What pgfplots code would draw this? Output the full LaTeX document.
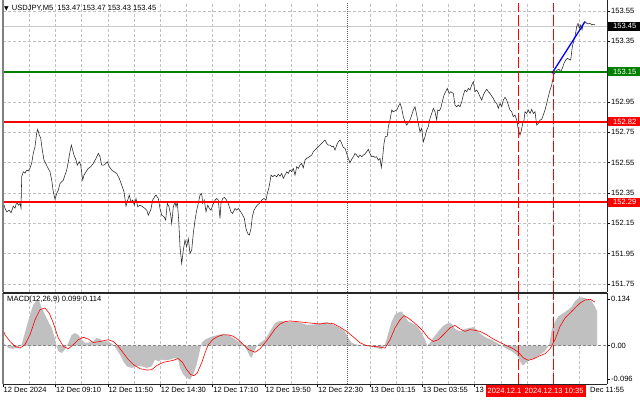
\documentclass[border=0pt]{standalone}
\usepackage{pgfplots}
\pgfplotsset{compat=1.18}
\usepackage{fontspec}
\setmainfont{Liberation Sans}
\newfontfamily\dejavu{DejaVu Sans}
\definecolor{mtgreen}{RGB}{0,128,0}
\definecolor{gridc}{RGB}{192,192,192}
\definecolor{histc}{RGB}{192,192,192}
\definecolor{curc}{RGB}{200,200,200}
\definecolor{mtred}{RGB}{255,0,0}
\newcommand{\fs}{\fontsize{7.6}{9}\selectfont}
\tikzset{mtgrid/.style={dash pattern=on 3bp off 2bp, draw=gridc, line width=0.5bp}}
\begin{document}
\begin{tikzpicture}
\path[use as bounding box, fill=white] (0bp,0bp) rectangle (640bp,-401bp);

% ---------------- main price panel ----------------
\begin{axis}[
  at={(3bp,-3bp)}, anchor=north west,
  scale only axis, width=604bp, height=289bp,
  xmin=3, xmax=607, ymin=151.697, ymax=153.603,
  axis line style={draw=none},
  clip=false,
  xtick=\empty,
  ytick={151.75,151.95,152.15,152.35,152.55,152.75,152.95,153.15,153.35,153.55},
  yticklabels={151.75,151.95,152.15,152.35,152.55,152.75,152.95,,153.35,153.55},
  ymajorgrids, major grid style={mtgrid},
  ytick pos=right, yticklabel pos=right,
  tick align=outside, major tick length=3bp,
  y tick style={black, line width=0.5bp},
  scaled y ticks=false,
  yticklabel style={font=\fs, anchor=west, inner sep=0pt, xshift=1bp},
]
% vertical grid
\pgfplotsinvokeforeach{29.2,55.4,81.6,107.8,134,160.2,186.4,212.6,238.8,265,291.2,317.4,369.8,396,422.2,448.4,474.6,500.8,527,553.2,579.4}{
  \draw[mtgrid] (axis cs:#1,151.697) -- (axis cs:#1,153.603);
}
% current price line
\addplot[draw=curc, line width=0.6bp] coordinates {(3,153.45) (607,153.45)};
% price
\addplot[draw=black!85, line width=0.55bp] coordinates {
(3,152.291) (5,152.250) (6.7,152.226) (9.3,152.237) (11,152.219) (13.3,152.263) (15,152.250) (16.7,152.291) (18.3,152.270) (20,152.281) (21,152.250) (21.7,152.457) (23.3,152.490) (25,152.481) (26.7,152.501) (28.3,152.496) (30,152.514) (31.7,152.547) (33.3,152.613) (35,152.655) (36.7,152.745) (37.7,152.770) (39.3,152.732) (40.7,152.712) (42.3,152.633) (44,152.567) (45.7,152.545) (47.3,152.523) (50,152.490) (51.7,152.435) (53.3,152.358) (55,152.308) (56.7,152.347) (58.3,152.369) (60,152.413) (61.7,152.424) (63.3,152.435) (65,152.468) (66.7,152.501) (68.3,152.556) (70,152.622) (71.3,152.666) (72.7,152.633) (74,152.600) (76,152.567) (77.3,152.534) (79.3,152.556) (80.7,152.534) (82.7,152.435) (84,152.468) (86,152.490) (88.3,152.512) (90.7,152.523) (93.3,152.545) (96,152.578) (98.3,152.611) (100,152.589) (101.7,152.534) (104,152.534) (106,152.545) (107.3,152.556) (109.3,152.523) (111.7,152.501) (114,152.490) (116.7,152.479) (119.3,152.446) (121.7,152.402) (124,152.358) (126,152.263) (127.7,152.303) (129.3,152.336) (131,152.291) (132.7,152.303) (134.3,152.270) (136,152.314) (137.7,152.259) (140,152.270) (142.7,152.259) (145,152.248) (146.7,152.237) (148.3,152.204) (150.7,152.237) (152.7,152.303) (155,152.329) (156,152.336) (158.3,152.314) (160,152.248) (161.7,152.204) (164,152.193) (165.7,152.171) (167.3,152.281) (169,152.259) (170.7,152.204) (171.7,152.149) (173.3,152.259) (175,152.291) (176,152.259) (177.3,152.291) (178.7,152.171) (180,151.995) (181.7,151.885) (183.3,151.973) (185,152.039) (186.7,151.995) (188.3,152.050) (190,151.951) (191.7,151.973) (193.3,152.083) (195,152.171) (196.7,152.237) (198.3,152.281) (200,152.336) (201.7,152.347) (202.7,152.281) (204.3,152.303) (206,152.226) (207.7,152.270) (209.3,152.248) (211,152.237) (212.7,152.270) (215,152.303) (216.7,152.314) (218.3,152.303) (220,152.182) (221,152.281) (222.7,152.314) (224.3,152.321) (226,152.308) (227.7,152.291) (229.3,152.259) (231,152.226) (232.7,152.215) (235,152.248) (236.7,152.237) (238.3,152.248) (240.7,152.226) (242.7,152.204) (244.3,152.182) (246,152.116) (247.7,152.083) (249.3,152.072) (251,152.116) (252.3,152.193) (254,152.237) (256,152.259) (257.3,152.270) (259.3,152.281) (261.7,152.303) (264,152.314) (266,152.303) (267.3,152.347) (268.7,152.380) (270,152.424) (271,152.468) (272.7,152.457) (274.3,152.468) (276.7,152.457) (278.3,152.474) (280,152.461) (281.7,152.479) (283.3,152.446) (285,152.468) (286.7,152.490) (288.3,152.479) (290,152.501) (291.7,152.490) (293.3,152.512) (295,152.468) (296.7,152.523) (298.3,152.512) (300,152.534) (301.7,152.545) (303.3,152.516) (305,152.567) (306.7,152.578) (309.3,152.589) (311.7,152.600) (313.3,152.622) (315,152.633) (316.7,152.644) (318.3,152.655) (320,152.666) (321.7,152.677) (323.3,152.688) (325,152.699) (326.7,152.677) (328.3,152.666) (330,152.666) (331.7,152.655) (333.3,152.659) (335,152.633) (336.7,152.666) (338.3,152.688) (340,152.699) (341.7,152.677) (343.3,152.651) (345,152.644) (346.7,152.611) (348.3,152.578) (350,152.549) (351.7,152.572) (353.3,152.589) (355,152.611) (356.7,152.600) (358.3,152.585) (360,152.600) (361.7,152.589) (363.3,152.600) (365,152.607) (366.7,152.622) (368.3,152.638) (370,152.611) (371.7,152.589) (373.3,152.593) (375,152.585) (376.7,152.589) (378.3,152.567) (380,152.578) (381.3,152.519) (382.7,152.589) (384,152.677) (385.3,152.721) (387.3,152.725) (388.3,152.787) (390,152.831) (391.7,152.897) (393.3,152.886) (395,152.892) (396.7,152.897) (398.3,152.919) (400,152.941) (401.7,152.908) (403.3,152.853) (405,152.820) (406.7,152.798) (408.3,152.813) (410,152.831) (411.7,152.864) (413.3,152.897) (415,152.919) (416.7,152.864) (418.3,152.809) (420,152.754) (421.7,152.776) (423.3,152.688) (425,152.721) (426.7,152.765) (428.3,152.787) (430,152.842) (431.7,152.875) (433.3,152.908) (435,152.886) (436.7,152.831) (437.7,152.897) (439.3,152.892) (440.7,152.908) (442.7,152.963) (444,152.996) (445.7,153.018) (447.3,153.040) (449,153.007) (450.7,153.018) (452.3,153.011) (453.3,153.007) (455,152.930) (456.7,152.919) (458.3,152.930) (460,152.919) (461.7,152.952) (463.3,152.996) (465,153.029) (466.7,153.018) (468.3,153.040) (470,153.029) (471.7,153.062) (473.3,153.084) (475,153.018) (476.7,153.029) (478.3,153.011) (480,152.985) (481.7,152.963) (483.3,152.996) (485,153.018) (486.7,153.034) (488.3,153.018) (490,153.007) (491.7,152.989) (493.3,152.974) (495,152.952) (496.7,152.941) (498.3,152.908) (500,152.941) (501.7,152.919) (503.3,152.963) (505,152.981) (506.7,152.963) (508.3,152.930) (510,152.897) (511.7,152.886) (513.3,152.853) (515,152.864) (516.7,152.831) (517.7,152.791) (519,152.754) (520,152.732) (521.3,152.760) (522.7,152.809) (524,152.831) (525,152.886) (526.7,152.875) (528.3,152.897) (530,152.875) (531.7,152.902) (533.3,152.875) (535,152.886) (536.7,152.798) (538.3,152.809) (540,152.831) (541.7,152.836) (543.3,152.864) (545,152.897) (546.7,152.941) (548.3,152.985) (550,153.029) (551.7,153.062) (552.7,153.095) (554,153.135) (555.7,153.150) (557.3,153.161) (559,153.166) (560.7,153.150) (562.3,153.172) (564,153.205) (565.7,153.227) (567.3,153.238) (569,153.232) (570.7,153.227) (572.3,153.315) (574,153.359) (575.3,153.392) (576.7,153.447) (578,153.469) (579.3,153.436) (580.7,153.458) (582,153.425) (583.3,153.469) (585,153.480) (586.7,153.469) (588.3,153.465) (590,153.469) (591.7,153.458) (593.3,153.463) (595,153.458)
};
% levels
\addplot[draw=mtgreen, line width=1.8bp] coordinates {(3,153.15) (607,153.15)};
\addplot[draw=mtred, line width=1.8bp] coordinates {(3,152.82) (607,152.82)};
\addplot[draw=mtred, line width=2.6bp] coordinates {(3,152.29) (607,152.29)};
% trend line
\addplot[draw=blue, line width=1.3bp] coordinates {(552,153.139) (585,153.480)};
% vertical lines
\addplot[draw=black!60, line width=1bp, dash pattern=on 1bp off 1bp] coordinates {(347,151.697) (347,153.603)};
\addplot[draw=mtred, line width=0.8bp, dash pattern=on 11bp off 3bp] coordinates {(518,151.697) (518,153.603)};
\addplot[draw=mtred, line width=0.8bp, dash pattern=on 11bp off 3bp] coordinates {(553,151.697) (553,153.603)};
% frame
\draw[gray, line width=1.5bp] (rel axis cs:0,0) -- ([yshift=3bp]rel axis cs:0,1);
\draw[black!85, line width=0.8bp] (rel axis cs:1,0) -- ([yshift=3bp]rel axis cs:1,1);
\draw[black!85, line width=0.8bp] (rel axis cs:0,0) -- (rel axis cs:1,0);
% right-side price labels
\node[fill=black, text=white, font=\fs, anchor=west, inner xsep=1.5bp, inner ysep=0pt, minimum height=9bp, minimum width=33bp] at ([xshift=1bp]axis cs:607,153.45) {153.45};
\node[fill=mtgreen, text=white, font=\fs, anchor=west, inner xsep=1.5bp, inner ysep=0pt, minimum height=9bp, minimum width=33bp] at ([xshift=1bp]axis cs:607,153.15) {153.15};
\node[fill=mtred, text=white, font=\fs, anchor=west, inner xsep=1.5bp, inner ysep=0pt, minimum height=9bp, minimum width=33bp] at ([xshift=1bp]axis cs:607,152.82) {152.82};
\node[fill=mtred, text=white, font=\fs, anchor=west, inner xsep=1.5bp, inner ysep=0pt, minimum height=9bp, minimum width=33bp] at ([xshift=1bp]axis cs:607,152.29) {152.29};
\end{axis}

% title
\node[anchor=west, inner sep=0pt, font=\fs] at (4bp,-8.5bp) {{\dejavu\fontsize{6}{7}\selectfont ▼}\hspace{3bp}USDJPY,M5\hspace{4bp}153.47 153.47 153.43 153.45};

% ---------------- MACD panel ----------------
\begin{axis}[
  at={(3bp,-293bp)}, anchor=north west,
  scale only axis, width=604bp, height=91bp,
  xmin=3, xmax=607, ymin=-0.110, ymax=0.151,
  axis line style={draw=none},
  clip=false,
  xtick={3,55.4,107.8,160.2,212.6,265,317.4,369.8,422.2,474.6},
  xticklabels={12 Dec 2024,12 Dec 09:10,12 Dec 11:50,12 Dec 14:30,12 Dec 17:10,12 Dec 19:50,12 Dec 22:30,13 Dec 01:15,13 Dec 03:55,13},
  extra x ticks={579.4}, extra x tick labels={Dec 11:55},
  extra x tick style={xticklabel style={xshift=10bp}},
  xtick pos=bottom,
  ytick={-0.096,0,0.134}, yticklabels={-0.096,0.00,0.134},
  ytick pos=right, yticklabel pos=right,
  tick align=outside, major tick length=3bp,
  tick style={black, line width=0.5bp},
  yticklabel style={font=\fs, anchor=west, inner sep=0pt, xshift=1bp},
  xticklabel style={font=\fs, anchor=north west, inner sep=0pt, yshift=-0.5bp, xshift=0.5bp},
]
% grid
\pgfplotsinvokeforeach{29.2,55.4,81.6,107.8,134,160.2,186.4,212.6,238.8,265,291.2,317.4,369.8,396,422.2,448.4,474.6,500.8,527,553.2,579.4}{
  \draw[mtgrid] (axis cs:#1,-0.110) -- (axis cs:#1,0.151);
}
% MACD histogram (main line)
\addplot[fill=histc, draw=none] coordinates {
(3,0.010) (5,0.003) (8.3,-0.007) (13.3,-0.009) (18.3,-0.004) (21.7,0.003) (24,0.027) (26.7,0.055) (30,0.089) (33.3,0.117) (36.7,0.131) (39.3,0.127) (41.7,0.108) (45,0.089) (48.3,0.069) (51.7,0.051) (54.3,0.027) (56.7,-0.002) (58.3,-0.016) (61.7,-0.021) (65,-0.011) (68.3,0.008) (71.7,0.031) (75,0.036) (78.3,0.031) (81.7,0.017) (85,0.008) (88.3,0.009) (93.3,0.012) (96.7,0.022) (100,0.019) (103.3,0.012) (108.3,0.012) (113.3,0.003) (116.7,-0.011) (120,-0.026) (123.3,-0.045) (126.7,-0.059) (131.7,-0.064) (136.7,-0.059) (141.7,-0.059) (146.7,-0.064) (151.7,-0.059) (155,-0.040) (158.3,-0.045) (161.7,-0.040) (165,-0.042) (170,-0.040) (175,-0.035) (178.3,-0.040) (180,-0.064) (183.3,-0.083) (186.7,-0.092) (190,-0.097) (193.3,-0.083) (196.7,-0.054) (199.3,-0.021) (201.7,0.008) (205,0.017) (208.3,0.022) (213.3,0.027) (218.3,0.031) (223.3,0.034) (228.3,0.031) (233.3,0.022) (238.3,0.012) (243.3,0.003) (246.7,-0.011) (250,-0.031) (251.7,-0.035) (254,-0.016) (256.7,-0.002) (260,0.008) (265,0.017) (270,0.041) (275,0.065) (280,0.071) (285,0.069) (290,0.069) (295,0.069) (300,0.066) (306.7,0.060) (313.3,0.060) (320,0.065) (326.7,0.067) (333.3,0.060) (340,0.051) (345,0.041) (348.3,0.022) (351.7,0.008) (356.7,0.003) (363.3,0.000) (370,-0.002) (376.7,-0.007) (381.7,-0.011) (385,0.003) (388.3,0.036) (391.7,0.069) (395,0.089) (398.3,0.095) (401.7,0.098) (405,0.084) (408.3,0.069) (411.7,0.065) (415,0.060) (418.3,0.051) (421.7,0.036) (425,0.017) (427.3,0.000) (430,0.008) (433.3,0.022) (438.3,0.041) (443.3,0.057) (448.3,0.065) (451.7,0.063) (455,0.048) (460,0.041) (465,0.048) (470,0.051) (473.3,0.053) (476.7,0.046) (481.7,0.031) (486.7,0.022) (491.7,0.017) (496.7,0.008) (501.7,0.000) (506.7,-0.009) (511.7,-0.016) (516.7,-0.026) (520,-0.045) (522.7,-0.057) (526,-0.049) (530,-0.040) (535,-0.035) (540,-0.026) (545,-0.016) (549.3,0.003) (551.7,0.046) (555,0.069) (558.3,0.084) (563.3,0.093) (568.3,0.103) (571.7,0.112) (575,0.127) (578.3,0.136) (581.7,0.139) (585,0.136) (588.3,0.133) (591.7,0.127) (595,0.112) (597,0.099)
} \closedcycle;
% zero line
\addplot[mtgrid, draw=gridc!70!black] coordinates {(3,0) (607,0)};
% signal line
\addplot[draw=mtred, line width=0.6bp] coordinates {
(3,0.045) (5,0.031) (10,0.012) (15,-0.002) (20,-0.007) (25,0.003) (30,0.031) (35,0.074) (40,0.103) (45,0.108) (49.3,0.093) (53.3,0.065) (58.3,0.022) (63.3,-0.002) (68.3,-0.009) (73.3,0.003) (78.3,0.017) (83.3,0.024) (88.3,0.019) (93.3,0.009) (98.3,0.011) (103.3,0.014) (108.3,0.017) (113.3,0.012) (118.3,-0.002) (123.3,-0.021) (128.3,-0.040) (133.3,-0.054) (140,-0.066) (146.7,-0.070) (151.7,-0.069) (156.7,-0.057) (163.3,-0.048) (168.3,-0.045) (173.3,-0.042) (178.3,-0.037) (182.7,-0.049) (186.7,-0.069) (190.7,-0.083) (194,-0.086) (197.3,-0.078) (201.7,-0.049) (205,-0.021) (208.3,0.003) (213.3,0.019) (218.3,0.027) (223.3,0.031) (228.3,0.031) (233.3,0.027) (238.3,0.017) (243.3,0.003) (248.3,-0.011) (255,-0.019) (260,-0.009) (265,0.008) (270,0.027) (275,0.048) (280,0.062) (285,0.069) (290,0.071) (296.7,0.069) (303.3,0.067) (310,0.065) (320,0.062) (326.7,0.065) (333.3,0.063) (340,0.053) (346.7,0.041) (353.3,0.025) (360,0.008) (366.7,0.000) (373.3,-0.002) (380,-0.004) (385,-0.007) (390,0.017) (395,0.051) (400,0.074) (404,0.086) (408.3,0.079) (413.3,0.068) (418.3,0.055) (423.3,0.041) (428.3,0.022) (433.3,0.012) (438.3,0.017) (443.3,0.031) (450,0.051) (455,0.058) (460,0.048) (465,0.041) (470,0.046) (475,0.044) (480,0.041) (486.7,0.031) (493.3,0.019) (500,0.009) (506.7,0.000) (513.3,-0.009) (518.3,-0.019) (523.3,-0.035) (528.3,-0.042) (533.3,-0.038) (538.3,-0.031) (545,-0.023) (550,-0.009) (555,0.017) (560,0.055) (565,0.079) (570,0.093) (575,0.108) (580,0.122) (585,0.131) (590,0.133) (595,0.125)
};
% vertical lines
\addplot[draw=black!60, line width=1bp, dash pattern=on 1bp off 1bp] coordinates {(347,-0.110) (347,0.151)};
\addplot[draw=mtred, line width=0.8bp, dash pattern=on 11bp off 3bp] coordinates {(518,-0.110) (518,0.151)};
\addplot[draw=mtred, line width=0.8bp, dash pattern=on 11bp off 3bp] coordinates {(553,-0.110) (553,0.151)};
% frame
\draw[gray, line width=1.5bp] (rel axis cs:0,0) -- (rel axis cs:0,1);
\draw[black!85, line width=0.8bp] (rel axis cs:1,0) -- (rel axis cs:1,1);
\draw[black!85, line width=0.8bp] (rel axis cs:0,1) -- (rel axis cs:1,1);
\draw[black!85, line width=0.8bp] (rel axis cs:0,0) -- (rel axis cs:1,0);
\node[anchor=west, inner sep=0pt, font=\fs] at ([xshift=4bp]axis cs:3,0.131) {MACD(12,26,9) 0.099 0.114};
\end{axis}

% red time boxes for vertical lines
\node[fill=mtred, text=white, font=\fs, anchor=north west, inner xsep=1.5bp, inner ysep=0pt, minimum height=12bp, minimum width=36bp] at (486bp,-385bp) {2024.12.1};
\node[fill=mtred, text=white, font=\fs, anchor=north west, inner xsep=2bp, inner ysep=0pt, minimum height=12bp, minimum width=64bp] at (522bp,-385bp) {2024.12.13 10:35};
\end{tikzpicture}
\end{document}
